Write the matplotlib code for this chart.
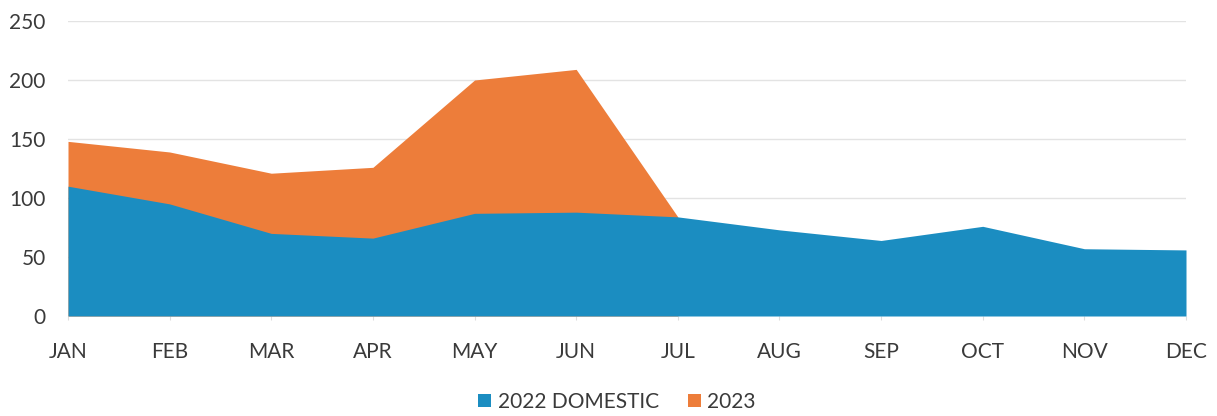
import numpy as np
import matplotlib.pyplot as plt

months = ["JAN", "FEB", "MAR", "APR", "MAY", "JUN", "JUL", "AUG", "SEP", "OCT", "NOV", "DEC"]
domestic_2022 = [110, 95, 70, 66, 87, 88, 84, 73, 64, 76, 57, 56]
vals_2023 = [148, 139, 121, 126, 200, 209, 84]

blue = "#1b8dc1"
orange = "#ed7d3a"
grey_txt = "#3a3a3a"

plt.rcParams['font.family'] = ['Lato', 'DejaVu Sans']

fig = plt.figure(figsize=(12.17, 4.16), dpi=100)
ax = fig.add_axes([68 / 1217, 1 - 316 / 416, (1186 - 68) / 1217, (316 - 21) / 416])

x = np.arange(len(months))
x23 = np.arange(len(vals_2023))

# 2023 sits behind, 2022 domestic drawn on top
ax.fill_between(x23, 0, vals_2023, color=orange, linewidth=0, label="2023", zorder=2)
ax.fill_between(x, 0, domestic_2022, color=blue, linewidth=0, label="2022 DOMESTIC", zorder=3)

ax.set_xlim(0, len(months) - 1)
ax.set_ylim(0, 250)
ax.set_yticks(range(0, 251, 50))
ax.set_xticks(x)
ax.set_xticklabels(months)

ax.grid(axis='y', color="#e3e3e3", linewidth=1, zorder=0)
ax.set_axisbelow(True)
for s in ax.spines.values():
    s.set_visible(False)

ax.tick_params(axis='y', length=0, pad=16, labelsize=15, labelcolor=grey_txt)
ax.tick_params(axis='x', length=3, color="#dddddd", pad=15.5, labelsize=15, labelcolor=grey_txt)

handles, labels = ax.get_legend_handles_labels()
fig.legend(handles[::-1], labels[::-1], loc='center', bbox_to_anchor=(0.507, 0.034),
           ncol=2, frameon=False, fontsize=15, labelcolor=grey_txt,
           handlelength=0.62, handleheight=0.62, handletextpad=0.3, columnspacing=1.4,
           borderpad=0)

fig.savefig("out.png", dpi=100, facecolor="white")
